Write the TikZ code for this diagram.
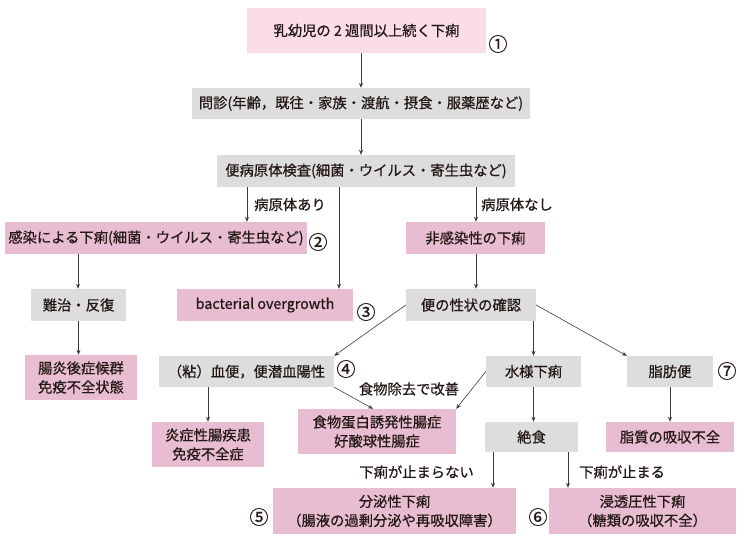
\documentclass[tikz,border=0pt]{standalone}
\usepackage{fontspec}
\setmainfont{Noto Sans CJK JP}[FakeBold=0.6]
\usepackage{tikz}
\usetikzlibrary{
    positioning,
    arrows.meta,
    calc
}
\definecolor{fillLight}{RGB}{250, 221, 233}
\definecolor{fillPink}{RGB}{232, 189, 209}
\definecolor{fillGray}{RGB}{221, 221, 221}
\definecolor{textDark}{RGB}{35, 24, 21}
\definecolor{lineDark}{RGB}{60, 60, 60}

\begin{document}
\begin{tikzpicture}[x=1pt, y=-1pt, >={Stealth[length=5pt, width=4pt]},
        every node/.style={font=\fontsize{14.3}{19}\selectfont, text=textDark},
        box/.style={rectangle, inner xsep=1pt, inner ysep=0pt, align=center},
        boxGray/.style={box, fill=fillGray},
        boxPink/.style={box, fill=fillPink},
        boxLight/.style={box, fill=fillLight},
        num/.style={inner sep=0pt, font=\fontsize{19}{19}\selectfont},
        lbl/.style={inner sep=0pt},
        arr/.style={->, draw=lineDark, line width=0.6pt}]
        \useasboundingbox (0,0) rectangle (740,544);

        % 座標設定 (分岐する矢印の x 位置)
        \coordinate (xA) at (247,0);
        \coordinate (xB) at (339,0);
        \coordinate (xC) at (476,0);
        \coordinate (xD) at (78,0);
        \coordinate (xE) at (208,0);
        \coordinate (xF) at (373,0);
        \coordinate (xG) at (493,0);
        \coordinate (xH) at (568,0);

        % 上段
        \node[boxLight, minimum width=239pt, minimum height=45pt] (S) at (366.5,30.5) {乳幼児の 2 週間以上続く下痢};
        \node[boxGray, minimum width=338pt, minimum height=31pt] (Q) at (361,103.5) {問診(年齢，既往・家族・渡航・摂食・服薬歴など)};
        \node[boxGray, minimum width=298pt, minimum height=32pt] (K) at (366,171) {便病原体検査(細菌・ウイルス・寄生虫など)};

        % 病原体の有無
        \node[boxPink, minimum width=302pt, minimum height=32pt] (I) at (156,238) {感染による下痢(細菌・ウイルス・寄生虫など)};
        \node[boxPink, minimum width=139pt, minimum height=32pt] (N) at (475.5,238) {非感染性の下痢};
        \node[boxGray, minimum width=95pt, minimum height=32pt] (R) at (78.5,305) {難治・反復};
        \node[boxPink, minimum width=112pt, minimum height=45pt] (P) at (81,377.5) {腸炎後症候群\\免疫不全状態};
        \node[boxPink, minimum width=176pt, minimum height=32pt] (B) at (265,305) {bacterial overgrowth};
        \node[boxGray, minimum width=130pt, minimum height=32pt] (C) at (471,305) {便の性状の確認};

        % 便の性状
        \node[boxGray, minimum width=175pt, minimum height=31pt] (M) at (246.5,371.5) {（粘）血便，便潜血陽性};
        \node[boxGray, minimum width=95pt, minimum height=31pt] (W) at (533.5,371.5) {水様下痢};
        \node[boxGray, minimum width=86pt, minimum height=31pt] (F) at (670,371.5) {脂肪便};
        \node[boxPink, minimum width=112pt, minimum height=45pt] (E) at (208,444.5) {炎症性腸疾患\\免疫不全症};
        \node[boxPink, minimum width=158pt, minimum height=45pt] (A) at (377,431.5) {食物蛋白誘発性腸症\\好酸球性腸症};
        \node[boxGray, minimum width=93pt, minimum height=30pt] (Z) at (531.5,437) {絶食};
        \node[boxPink, minimum width=128pt, minimum height=30pt] (L) at (670,437) {脂質の吸収不全};
        \node[boxPink, minimum width=243pt, minimum height=46pt] (D) at (394.5,511) {分泌性下痢\\（腸液の過剰分泌や再吸収障害）};
        \node[boxPink, minimum width=187pt, minimum height=46pt] (O) at (642.5,511) {浸透圧性下痢\\（糖類の吸収不全）};

        % 番号
        \node[num] (n1) at (498,44) {①};
        \node[num] (n2) at (318,242) {②};
        \node[num] (n3) at (366,312) {③};
        \node[num] (n4) at (346,369) {④};
        \node[num] (n5) at (259,517) {⑤};
        \node[num] (n6) at (538,517) {⑥};
        \node[num] (n7) at (727,371) {⑦};

        % 矢印
        \draw[arr] (Q.north |- S.south) -- (Q.north);
        \draw[arr] (Q.south) -- (Q.south |- K.north);
        \draw[arr] (K.south -| xA) -- (I.north -| xA) node[lbl, midway, right=7pt] (LA) {病原体あり};
        \draw[arr] (K.south -| xB) -- (B.north -| xB);
        \draw[arr] (K.south -| xC) -- (N.north -| xC) node[lbl, midway, right=5pt] (LB) {病原体なし};
        \draw[arr] (I.south -| xD) -- (R.north -| xD);
        \draw[arr] (R.south) -- (R.south |- P.north);
        \draw[arr] (N.south -| xC) -- (C.north -| xC);
        \draw[arr] (C.west) -- (M.north east);
        \draw[arr] (C.south -| W.north) -- (W.north);
        \draw[arr] (C.east) -- (F.north west);
        \draw[arr] (M.south -| xE) -- (E.north -| xE);
        \draw[arr] (M.south east) -- (A.north -| xF);
        \draw[arr] (W.west) -- (A.north east);
        \draw[arr] (W.south) -- (W.south |- Z.north);
        \draw[arr] (F.south) -- (L.north);
        \draw[arr] (Z.south -| xG) -- (D.north -| xG);
        \draw[arr] (Z.south -| xH) -- (O.north -| xH);

        \node[lbl] (LE) at (409,389) {食物除去で改善};
        \node[lbl, anchor=east] (LC) at (474,472) {下痢が止まらない};
        \node[lbl, anchor=west] (LD) at (579,472) {下痢が止まる};
    \end{tikzpicture}
\end{document}
